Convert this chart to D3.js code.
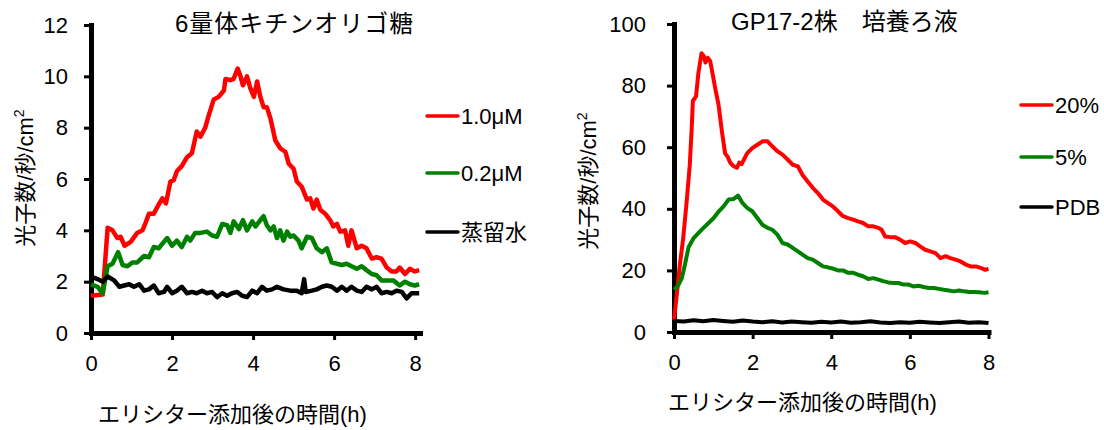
<!DOCTYPE html>
<html><head><meta charset="utf-8">
<script src="https://cdn.jsdelivr.net/npm/d3@7"></script>
<style>
body{margin:0;background:#fff}
svg text{font-family:"Liberation Sans",Arial,"Noto Sans CJK JP",sans-serif;fill:#000}
</style>
</head><body>
<svg id="chart" width="1104" height="430"></svg>
<script>
// ---- 6量体キチンオリゴ糖 (left panel) ----
const chitinRedT = [0,0.29,0.41,0.53,0.65,0.73,0.83,0.98,1.14,1.27,1.35,1.43,1.55,1.67,1.76,1.85,1.96,2.04,2.12,2.24,2.37,2.49,2.61,2.7,2.82,2.9,3.03,3.15,3.28,3.32,3.44,3.52,3.62,3.69,3.75,3.85,3.93,4.02,4.1,4.18,4.26,4.34,4.43,4.55,4.67,4.8,4.88,5.0,5.08,5.2,5.33,5.41,5.49,5.57,5.66,5.78,5.9,5.98,6.07,6.15,6.27,6.35,6.43,6.56,6.68,6.8,6.93,7.05,7.17,7.3,7.42,7.54,7.62,7.75,7.87,7.99,8.1];
const chitinRedV = [1.45,1.5,4.1,4.0,3.7,3.75,3.4,3.55,3.9,4.0,4.3,4.65,4.65,5.0,5.25,5.05,5.9,5.95,6.3,6.5,6.85,7.0,7.85,7.65,8.0,8.45,9.1,9.2,9.45,9.9,9.85,9.9,10.3,10.0,9.65,10.0,9.55,9.2,9.8,9.2,8.8,8.8,8.35,7.5,7.2,7.05,6.6,6.4,5.9,5.7,5.2,5.25,4.85,5.2,4.8,4.65,4.4,4.15,4.25,3.95,4.0,3.4,4.0,3.3,3.4,3.3,2.9,2.95,2.9,2.55,2.4,2.4,2.55,2.3,2.5,2.4,2.45];

const chitinGreenT = [0,0.16,0.29,0.41,0.53,0.67,0.78,0.9,1.02,1.14,1.31,1.43,1.55,1.67,1.8,1.88,2.0,2.12,2.24,2.37,2.45,2.57,2.7,2.86,2.99,3.11,3.24,3.36,3.44,3.52,3.65,3.75,3.85,3.98,4.06,4.18,4.26,4.34,4.43,4.51,4.59,4.67,4.75,4.84,4.92,5.0,5.12,5.2,5.33,5.45,5.57,5.7,5.82,5.94,6.07,6.19,6.31,6.43,6.56,6.68,6.8,6.93,7.05,7.17,7.3,7.46,7.62,7.75,7.87,7.99,8.1];
const chitinGreenV = [1.9,1.8,1.55,2.6,2.7,3.15,2.65,2.6,2.75,2.75,3.0,2.95,3.35,3.3,3.55,3.7,3.4,3.6,3.35,3.75,3.6,3.9,3.9,3.95,3.8,3.75,4.25,4.2,3.9,4.35,4.05,4.4,4.0,4.35,4.15,4.4,4.55,4.2,4.0,4.15,3.7,4.0,3.6,3.95,3.75,3.8,3.6,3.3,3.75,3.7,3.3,3.15,3.3,2.75,2.7,2.65,2.7,2.6,2.5,2.6,2.45,2.3,2.25,2.05,2.05,2.05,1.85,2.0,1.9,1.85,1.9];

const chitinBlackT = [0,0.16,0.29,0.41,0.57,0.7,0.82,0.94,1.06,1.19,1.31,1.43,1.55,1.67,1.8,1.88,2.0,2.12,2.24,2.37,2.49,2.61,2.74,2.86,2.99,3.11,3.24,3.36,3.48,3.61,3.73,3.85,3.98,4.1,4.22,4.34,4.47,4.59,4.75,4.92,5.08,5.2,5.26,5.3,5.45,5.57,5.7,5.82,5.94,6.07,6.19,6.31,6.43,6.56,6.68,6.8,6.93,7.05,7.17,7.3,7.42,7.54,7.67,7.79,7.91,8.03,8.1];
const chitinBlackV = [2.2,2.1,2.0,2.2,2.05,1.8,1.85,1.9,1.8,1.9,1.65,1.7,1.85,1.55,1.6,1.8,1.55,1.65,1.8,1.55,1.6,1.55,1.65,1.55,1.6,1.4,1.55,1.45,1.55,1.6,1.45,1.4,1.65,1.55,1.8,1.65,1.7,1.8,1.7,1.65,1.65,1.55,2.1,1.6,1.65,1.7,1.8,1.85,1.8,1.65,1.8,1.65,1.8,1.65,1.6,1.8,1.7,1.8,1.55,1.6,1.55,1.65,1.6,1.35,1.55,1.55,1.55];

// ---- GP17-2株 培養ろ液 (right panel) ----
const filtrateRedT = [0,0.07,0.15,0.23,0.32,0.4,0.45,0.48,0.56,0.62,0.7,0.76,0.8,0.86,0.92,0.98,1.05,1.13,1.22,1.3,1.36,1.43,1.5,1.6,1.66,1.72,1.8,1.86,1.99,2.12,2.25,2.38,2.5,2.63,2.76,2.89,3.02,3.15,3.27,3.4,3.53,3.66,3.79,3.91,4.04,4.17,4.3,4.43,4.56,4.68,4.81,4.94,5.07,5.2,5.28,5.37,5.5,5.62,5.75,5.88,6.01,6.14,6.26,6.39,6.52,6.65,6.78,6.91,7.03,7.16,7.29,7.42,7.55,7.68,7.8,7.92,8.0];
const filtrateRedV = [4,12,22,30,42,54,66,75,76.5,84,90.5,89.5,87.5,89,88,84,79,74,65,58,57,55,54,53.3,55,54.5,56.5,58,59.7,60.8,61.9,61.9,60.3,58.7,57.6,56,54.3,53.8,51,48.9,46.8,45.1,43,41.9,40.8,39.2,37.6,37,36.5,35.9,35.4,34.3,34.3,33.8,33.2,31,30.8,30.8,30,28.9,29.4,28.9,27.8,26.7,26.2,25.6,24,24.6,24,23.5,22.9,21.9,21.3,21.3,20.8,20.2,20.5];

const filtrateGreenT = [0,0.1,0.2,0.28,0.37,0.5,0.62,0.75,0.88,1.01,1.14,1.26,1.39,1.52,1.63,1.74,1.86,1.99,2.12,2.25,2.38,2.5,2.63,2.76,2.89,3.02,3.15,3.27,3.4,3.53,3.66,3.79,3.91,4.04,4.17,4.3,4.43,4.56,4.68,4.81,4.94,5.07,5.2,5.32,5.45,5.58,5.71,5.84,5.97,6.09,6.22,6.35,6.48,6.61,6.74,6.86,6.99,7.12,7.25,7.38,7.5,7.63,7.76,7.9,8.0];
const filtrateGreenV = [13.7,15,17.5,22,27.5,30.5,32.1,33.8,35.4,37,39.2,40.8,43,43.2,44.3,41.9,40.3,39.2,37,34.8,33.8,33.2,31.6,28.9,28.4,27.3,26.2,25.1,24,23.5,22.4,21.3,21,20.6,20,20,19.2,19.2,18.6,18.1,17.2,17.5,17,16.5,16.1,15.9,15.9,15.4,15.4,14.8,15,14.6,14.3,14.3,14,13.7,13.5,13.2,13.5,13.2,13,13,12.9,12.7,12.9];

const filtrateBlackT = [0,0.25,0.5,0.75,1,1.25,1.5,1.75,2,2.25,2.5,2.75,3,3.25,3.5,3.75,4,4.25,4.5,4.75,5,5.25,5.5,5.75,6,6.25,6.5,6.75,7,7.25,7.5,7.75,8];
const filtrateBlackV = [3.6,3.4,3.8,3.5,3.9,3.6,3.3,3.7,3.4,3.2,3.5,3.1,3.4,3.2,3.0,3.3,3.1,3.4,3.0,3.2,3.5,3.1,2.9,3.2,3.0,3.3,3.1,2.9,3.2,3.4,3.0,3.2,2.9];

// ---- tick values, legend labels, titles ----
const xTicks = [0, 2, 4, 6, 8];
const chitinYTicks = [0, 2, 4, 6, 8, 10, 12];
const filtrateYTicks = [0, 20, 40, 60, 80, 100];
const chitinLegend = ["1.0μM", "0.2μM", "蒸留水"];
const filtrateLegend = ["20%", "5%", "PDB"];
const seriesColors = ["#ff0000", "#008000", "#000000"];
const xTitle = "エリシター添加後の時間(h)";
const yTitleMain = "光子数/秒/cm";
const chitinTitle = "6量体キチンオリゴ糖";
const filtrateTitle = "GP17-2株\u3000培養ろ液";

const svg = d3.select("#chart");

function drawPanel(p) {
  const x = d3.scaleLinear().domain(p.xDomain).range(p.xRange);
  const y = d3.scaleLinear().domain(p.yDomain).range(p.yRange);
  const g = svg.append("g");

  // axes
  const yAxis = g.append("g")
    .attr("transform", `translate(${p.xRange[0]},0)`)
    .call(d3.axisLeft(y).tickValues(p.yTicks).tickSize(7).tickSizeOuter(0).tickPadding(p.yPad));
  const xAxis = g.append("g")
    .attr("transform", `translate(0,${p.yRange[0]})`)
    .call(d3.axisBottom(x).tickValues(xTicks).tickSize(7).tickSizeOuter(0).tickPadding(15));
  [yAxis, xAxis].forEach(a => {
    a.select(".domain").attr("stroke", "#000").attr("stroke-width", 5).attr("stroke-linecap", "square");
    a.selectAll(".tick line").attr("stroke", "#000").attr("stroke-width", 3);
    a.selectAll(".tick text").attr("font-size", 22).attr("fill", "#000");
  });

  // data lines
  const line = d3.line().x(d => x(d[0])).y(d => y(d[1]));
  p.series.forEach((s, i) => {
    g.append("path")
      .datum(d3.zip(s[0], s[1]))
      .attr("d", line)
      .attr("fill", "none")
      .attr("stroke", seriesColors[i])
      .attr("stroke-width", p.lineWidth)
      .attr("stroke-linejoin", "round");
  });

  // panel title
  g.append("text")
    .attr("x", p.titleX).attr("y", p.titleY)
    .attr("font-size", 24)
    .attr("letter-spacing", p.titleSpacing)
    .text(p.title);

  // y axis title with superscript
  const yt = g.append("text")
    .attr("transform", `translate(${p.yTitleX},${p.yTitleY}) rotate(-90)`)
    .attr("text-anchor", "middle")
    .attr("font-size", 22);
  yt.append("tspan").text(yTitleMain);
  yt.append("tspan").attr("font-size", 14).attr("dy", -9).text("2");

  // x axis title
  g.append("text")
    .attr("x", p.xTitleX).attr("y", p.xTitleY)
    .attr("font-size", 22)
    .text(xTitle);

  // legend
  p.legend.forEach((name, i) => {
    const ly = p.legendY[i];
    g.append("line")
      .attr("x1", p.legendX).attr("x2", p.legendX + 31)
      .attr("y1", ly).attr("y2", ly)
      .attr("stroke", seriesColors[i]).attr("stroke-width", 3.5)
      .attr("stroke-linecap", "round");
    g.append("text")
      .attr("x", p.legendX + 34).attr("y", ly).attr("dy", "0.36em")
      .attr("font-size", 22)
      .text(name);
  });
}

drawPanel({
  xDomain: [0, 8.12], xRange: [91, 420],
  yDomain: [0, 12], yRange: [333, 25],
  yTicks: chitinYTicks, yPad: 16, lineWidth: 4.5,
  series: [[chitinRedT, chitinRedV], [chitinGreenT, chitinGreenV], [chitinBlackT, chitinBlackV]],
  title: chitinTitle, titleX: 175, titleY: 32, titleSpacing: 1,
  yTitleX: 33, yTitleY: 178,
  xTitleX: 98, xTitleY: 422,
  legend: chitinLegend, legendX: 427, legendY: [116, 173, 232]
});

drawPanel({
  xDomain: [0, 8], xRange: [674, 988.5],
  yDomain: [0, 100], yRange: [332, 24],
  yTicks: filtrateYTicks, yPad: 21, lineWidth: 4,
  series: [[filtrateRedT, filtrateRedV], [filtrateGreenT, filtrateGreenV], [filtrateBlackT, filtrateBlackV]],
  title: filtrateTitle, titleX: 731, titleY: 30, titleSpacing: 0,
  yTitleX: 596, yTitleY: 181,
  xTitleX: 668, xTitleY: 410,
  legend: filtrateLegend, legendX: 1021, legendY: [105, 157, 207]
});
</script>
</body></html>
